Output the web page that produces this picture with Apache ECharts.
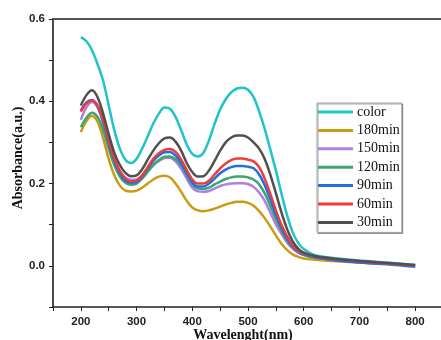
<!DOCTYPE html>
<html>
<head>
<meta charset="utf-8">
<script src="https://cdn.jsdelivr.net/npm/echarts@6/dist/echarts.min.js"></script>
<style>
  html, body { margin: 0; padding: 0; background: #fff; }
  #chart { width: 441px; height: 340px; }
</style>
</head>
<body>
<div id="chart"></div>
<script>
// Wavelength grid (nm) shared by every spectrum
const wavelengths = [200,210,220,230,240,250,260,270,280,290,300,310,320,330,340,350,360,370,380,390,400,410,420,430,440,450,460,470,480,490,500,510,520,530,540,550,560,570,580,590,600,620,650,700,750,800];

// Absorbance spectra
const colorSpec = [0.556,0.546,0.524,0.49,0.45,0.39,0.33,0.285,0.258,0.25,0.26,0.285,0.315,0.346,0.37,0.385,0.382,0.362,0.33,0.295,0.272,0.266,0.275,0.305,0.345,0.38,0.405,0.422,0.431,0.433,0.428,0.41,0.375,0.333,0.283,0.232,0.176,0.124,0.082,0.056,0.041,0.026,0.02,0.013,0.008,0.002];
const min180 = [0.325,0.352,0.364,0.35,0.31,0.26,0.22,0.195,0.183,0.181,0.183,0.19,0.2,0.21,0.217,0.219,0.215,0.2,0.18,0.158,0.142,0.135,0.133,0.135,0.139,0.144,0.149,0.153,0.156,0.156,0.153,0.146,0.133,0.116,0.096,0.074,0.054,0.039,0.028,0.022,0.018,0.015,0.012,0.008,0.005,0.0];
const min150 = [0.355,0.385,0.398,0.385,0.348,0.3,0.258,0.23,0.214,0.209,0.21,0.218,0.232,0.245,0.255,0.262,0.263,0.254,0.236,0.212,0.19,0.181,0.18,0.182,0.188,0.194,0.198,0.2,0.201,0.201,0.199,0.192,0.178,0.158,0.13,0.101,0.078,0.057,0.042,0.032,0.026,0.02,0.015,0.009,0.005,0.0];
const min120 = [0.337,0.36,0.372,0.362,0.33,0.285,0.245,0.217,0.202,0.197,0.2,0.212,0.228,0.245,0.257,0.265,0.266,0.259,0.243,0.22,0.198,0.188,0.187,0.19,0.198,0.205,0.211,0.215,0.217,0.217,0.215,0.21,0.198,0.176,0.146,0.114,0.086,0.062,0.045,0.034,0.027,0.02,0.015,0.009,0.005,0.0];
const min90 = [0.377,0.397,0.403,0.388,0.35,0.3,0.255,0.225,0.207,0.202,0.204,0.217,0.236,0.255,0.268,0.276,0.277,0.268,0.25,0.225,0.203,0.193,0.193,0.2,0.212,0.225,0.234,0.24,0.243,0.243,0.241,0.237,0.222,0.196,0.162,0.125,0.092,0.066,0.047,0.035,0.028,0.021,0.015,0.008,0.004,-0.002];
const min60 = [0.375,0.395,0.402,0.39,0.355,0.305,0.26,0.23,0.212,0.205,0.207,0.22,0.24,0.26,0.274,0.282,0.284,0.277,0.258,0.233,0.21,0.2,0.2,0.207,0.222,0.237,0.249,0.257,0.261,0.261,0.258,0.254,0.24,0.212,0.175,0.135,0.1,0.072,0.05,0.037,0.03,0.023,0.017,0.011,0.006,0.001];
const min30 = [0.39,0.415,0.427,0.41,0.37,0.32,0.275,0.245,0.226,0.218,0.22,0.235,0.258,0.28,0.298,0.31,0.312,0.302,0.28,0.25,0.228,0.217,0.218,0.232,0.255,0.28,0.3,0.312,0.317,0.317,0.312,0.3,0.285,0.26,0.222,0.177,0.13,0.09,0.06,0.042,0.032,0.024,0.018,0.012,0.007,0.002];

const seriesNames = ['color','180min','150min','120min','90min','60min','30min'];
const seriesValues = [colorSpec, min180, min150, min120, min90, min60, min30];
const seriesColors = ['#1fc3c8','#cc9a14','#b07ee6','#3aa670','#1f6fe6','#f03a3a','#505050'];

// Axis tick labels
const xTickLabels = [200,300,400,500,600,700,800];
const yTickLabels = ['0.0','0.2','0.4','0.6'];

const chart = echarts.init(document.getElementById('chart'), null, { renderer: 'canvas' });

const tickFont = { fontFamily: 'Liberation Sans', fontWeight: 'bold', fontSize: 11.5, color: '#222' };
const titleFont = { fontFamily: 'Liberation Serif', fontWeight: 'bold', fontSize: 14, color: '#111' };

chart.setOption({
  animation: false,
  backgroundColor: '#fff',
  grid: { left: 53, top: 19, width: 390, bottom: 33, containLabel: false, outerBoundsMode: 'none' },
  legend: {
    orient: 'vertical',
    left: 317,
    top: 103,
    padding: [2, 2, 3, 1],
    itemGap: 4.4,
    itemWidth: 35,
    itemHeight: 3,
    icon: 'rect',
    borderColor: '#a0a0a0',
    borderWidth: 1,
    backgroundColor: '#fff',
    shadowColor: 'rgba(0,0,0,0.35)',
    shadowOffsetX: 1,
    shadowOffsetY: 1,
    shadowBlur: 0,
    textStyle: { fontFamily: 'Liberation Serif', fontSize: 14, color: '#111', lineHeight: 14, padding: [0, 0, 0, -1] },
    data: seriesNames
  },
  xAxis: [{
    type: 'value',
    min: 150,
    max: 850,
    interval: 50,
    name: 'Wavelenght(nm)',
    nameLocation: 'middle',
    nameGap: 21,
    nameMoveOverlap: false,
    nameTextStyle: Object.assign({ padding: [0, 10, 0, 0] }, titleFont),
    axisLine: { show: true, onZero: false, lineStyle: { color: '#222', width: 1.5 } },
    axisTick: { show: true, inside: false, length: 4, lineStyle: { color: '#222', width: 1 } },
    splitLine: { show: false },
    axisLabel: Object.assign({
      margin: 9,
      formatter: v => (xTickLabels.indexOf(v) >= 0 ? String(v) : '')
    }, tickFont)
  }, {
    type: 'value',
    position: 'top',
    min: 150,
    max: 850,
    axisLine: { show: true, onZero: false, lineStyle: { color: '#555', width: 2 } },
    axisTick: { show: false },
    axisLabel: { show: false },
    splitLine: { show: false }
  }],
  yAxis: {
    type: 'value',
    min: -0.1,
    max: 0.6,
    interval: 0.1,
    name: 'Absorbance(a.u.)',
    nameLocation: 'middle',
    nameGap: 28,
    nameMoveOverlap: false,
    nameRotate: 90,
    nameTextStyle: Object.assign({ padding: [0, 0, 0, 10] }, titleFont),
    axisLine: { show: true, onZero: false, lineStyle: { color: '#111', width: 1.5 } },
    axisTick: { show: true, inside: false, length: 4, lineStyle: { color: '#222', width: 1 } },
    splitLine: { show: false },
    axisLabel: Object.assign({
      margin: 8,
      formatter: v => {
        const s = (Math.round(v * 10) / 10).toFixed(1);
        return yTickLabels.indexOf(s) >= 0 ? s : '';
      }
    }, tickFont)
  },
  series: seriesNames.map((name, i) => ({
    name: name,
    type: 'line',
    smooth: 0.35,
    showSymbol: false,
    symbol: 'none',
    color: seriesColors[i],
    lineStyle: { width: 2.5, color: seriesColors[i] },
    data: wavelengths.map((w, k) => [w, seriesValues[i][k]])
  }))
});
</script>
</body>
</html>
